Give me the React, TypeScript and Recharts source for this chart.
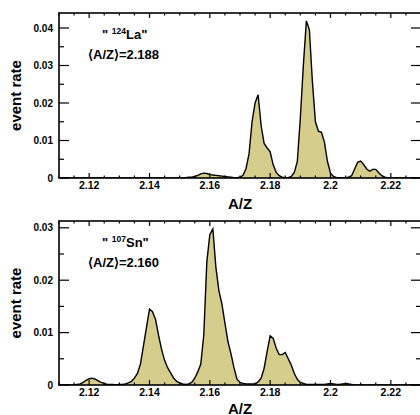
import React from 'react';
import { ComposedChart, Area, XAxis, YAxis } from 'recharts';

// ---------- data ----------
const X_TICKS = [2.11, 2.115, 2.12, 2.125, 2.13, 2.135, 2.14, 2.145, 2.15, 2.155, 2.16, 2.165, 2.17, 2.175, 2.18, 2.185, 2.19, 2.195, 2.2, 2.205, 2.21, 2.215, 2.22, 2.225, 2.23];
const X_MAJOR = [2.12, 2.14, 2.16, 2.18, 2.2, 2.22];
const LA_Y_TICKS = [0, 0.005, 0.01, 0.015, 0.02, 0.025, 0.03, 0.035, 0.04];
const SN_Y_TICKS = [0, 0.005, 0.01, 0.015, 0.02, 0.025, 0.03];

const LA_AZ = [2.11, 2.148, 2.149, 2.15, 2.151, 2.152, 2.153, 2.154, 2.155, 2.156, 2.157, 2.158, 2.159, 2.16, 2.161, 2.162, 2.163, 2.164, 2.165, 2.166, 2.167, 2.168, 2.169, 2.17, 2.171, 2.172, 2.173, 2.174, 2.175, 2.176, 2.177, 2.178, 2.179, 2.18, 2.181, 2.182, 2.183, 2.184, 2.185, 2.186, 2.187, 2.188, 2.189, 2.19, 2.191, 2.192, 2.193, 2.194, 2.195, 2.196, 2.197, 2.198, 2.199, 2.2, 2.201, 2.202, 2.203, 2.204, 2.205, 2.206, 2.207, 2.208, 2.209, 2.21, 2.211, 2.212, 2.213, 2.214, 2.215, 2.216, 2.217, 2.218, 2.219, 2.22, 2.23];
const LA_RATE = [0, 0, 0.0001, 0.0001, 0.0001, 0.0001, 0.0002, 0.0002, 0.0004, 0.0007, 0.0011, 0.0013, 0.0012, 0.0009, 0.0008, 0.0007, 0.0006, 0.0005, 0.0004, 0.0003, 0.0002, 0.0001, 0.0001, 0.0002, 0.0007, 0.0025, 0.0065, 0.015, 0.02, 0.0222, 0.014, 0.0092, 0.008, 0.007, 0.0035, 0.0015, 0.0006, 0.0002, 0.0001, 0.0001, 0.0004, 0.0015, 0.0044, 0.016, 0.03, 0.0419, 0.0395, 0.0257, 0.015, 0.0125, 0.0122, 0.0095, 0.0044, 0.0013, 0.0004, 0.0001, 0.0001, 0.0001, 0.0001, 0.0002, 0.0006, 0.0024, 0.0042, 0.0045, 0.0036, 0.0024, 0.0018, 0.0023, 0.0023, 0.0014, 0.0006, 0.0002, 0.0001, 0, 0];

const SN_AZ = [2.11, 2.115, 2.116, 2.117, 2.118, 2.119, 2.12, 2.121, 2.122, 2.123, 2.124, 2.125, 2.126, 2.127, 2.128, 2.129, 2.13, 2.131, 2.132, 2.133, 2.134, 2.135, 2.136, 2.137, 2.138, 2.139, 2.14, 2.141, 2.142, 2.143, 2.144, 2.145, 2.146, 2.147, 2.148, 2.149, 2.15, 2.151, 2.152, 2.153, 2.154, 2.155, 2.156, 2.157, 2.158, 2.159, 2.16, 2.161, 2.162, 2.163, 2.164, 2.165, 2.166, 2.167, 2.168, 2.169, 2.17, 2.171, 2.172, 2.173, 2.174, 2.175, 2.176, 2.177, 2.178, 2.179, 2.18, 2.181, 2.182, 2.183, 2.184, 2.185, 2.186, 2.187, 2.188, 2.189, 2.19, 2.191, 2.192, 2.193, 2.194, 2.195, 2.196, 2.197, 2.198, 2.199, 2.2, 2.201, 2.202, 2.203, 2.204, 2.205, 2.206, 2.207, 2.208, 2.23];
const SN_RATE = [0, 0, 0.0001, 0.0002, 0.0005, 0.0009, 0.0012, 0.0013, 0.0011, 0.0008, 0.0005, 0.0003, 0.0001, 0.0001, 0.0001, 0, 0.0001, 0.0001, 0.0002, 0.0004, 0.0007, 0.0013, 0.0022, 0.004, 0.0075, 0.011, 0.0145, 0.014, 0.0125, 0.0095, 0.0068, 0.0047, 0.0033, 0.0023, 0.0013, 0.0007, 0.0004, 0.0002, 0.0001, 0.0002, 0.0005, 0.0013, 0.0025, 0.004, 0.0096, 0.0235, 0.0287, 0.0298, 0.0225, 0.018, 0.0155, 0.0118, 0.0083, 0.006, 0.0033, 0.0011, 0.0005, 0.0003, 0.0002, 0.0002, 0.0002, 0.0002, 0.0006, 0.0013, 0.0032, 0.0064, 0.0094, 0.0089, 0.007, 0.0058, 0.0058, 0.0062, 0.005, 0.0038, 0.0022, 0.0011, 0.0005, 0.0003, 0.0001, 0.0001, 0.0001, 0.0001, 0.0001, 0.0001, 0.0001, 0.0002, 0.0003, 0.0002, 0.0001, 0.0001, 0.0002, 0.0003, 0.0002, 0.0001, 0, 0];

const LA_LABEL = { nuclide: 'La', mass: '124', mean: '2.188' };
const SN_LABEL = { nuclide: 'Sn', mass: '107', mean: '2.160' };

// ---------- style ----------
const FONT = '"Liberation Sans", Arial, Helvetica, sans-serif';
const FILL = '#d4cd8b';
const CHART_W = 424;
const PLOT_L = 59;
const PLOT_R = 421;

const isMajorX = (v: number) => X_MAJOR.some((m) => Math.abs(m - v) < 1e-7);
const isMajorY = (v: number) => Math.abs(v * 100 - Math.round(v * 100)) < 1e-6;

function XTick(props: any) {
  const { x, payload, plotTop, plotBottom } = props;
  const v = payload.value as number;
  const major = isMajorX(v);
  const len = major ? 5 : 2.5;
  return (
    <g>
      <line x1={x} x2={x} y1={plotBottom} y2={plotBottom - len} stroke="#000" strokeWidth={1.2} />
      <line x1={x} x2={x} y1={plotTop} y2={plotTop + len} stroke="#000" strokeWidth={1.2} />
      {major && (
        <text x={x} y={plotBottom + 11} textAnchor="middle" fontFamily={FONT} fontWeight="bold" fontSize={10.5} fill="#000">
          {String(Number(v.toFixed(2)))}
        </text>
      )}
    </g>
  );
}

function YTick(props: any) {
  const { y, payload } = props;
  const v = payload.value as number;
  const major = isMajorY(v);
  const len = major ? 10 : 5;
  return (
    <g>
      <line x1={PLOT_L} x2={PLOT_L + len} y1={y} y2={y} stroke="#000" strokeWidth={1.2} />
      <line x1={PLOT_R} x2={PLOT_R - len} y1={y} y2={y} stroke="#000" strokeWidth={1.2} />
      {major && (
        <text x={PLOT_L - 6} y={y + 3.6} textAnchor="end" fontFamily={FONT} fontWeight="bold" fontSize={10} fill="#000">
          {String(Number(v.toFixed(3)))}
        </text>
      )}
    </g>
  );
}

type PanelProps = {
  az: number[];
  rate: number[];
  yMax: number;
  yTicks: number[];
  top: number;
  height: number;
  plotTop: number;
  plotBottom: number;
};

function Panel({ az, rate, yMax, yTicks, top, height, plotTop, plotBottom }: PanelProps) {
  const data = az.map((a, i) => ({ az: a, rate: rate[i] }));
  return (
    <div style={{ position: 'absolute', left: 0, top, width: CHART_W, height }}>
      <ComposedChart
        width={CHART_W}
        height={height}
        data={data}
        margin={{ top: plotTop, right: CHART_W - PLOT_R, bottom: height - plotBottom - 30, left: 0 }}
      >
        <XAxis
          dataKey="az"
          type="number"
          domain={[2.11, 2.23]}
          allowDataOverflow
          ticks={X_TICKS}
          interval={0}
          height={30}
          axisLine={false}
          tickLine={false}
          tick={<XTick plotTop={plotTop} plotBottom={plotBottom} />}
        />
        <YAxis
          type="number"
          domain={[0, yMax]}
          allowDataOverflow
          ticks={yTicks}
          interval={0}
          width={PLOT_L}
          axisLine={false}
          tickLine={false}
          tick={<YTick />}
        />
        <Area
          type="linear"
          dataKey="rate"
          stroke="#000"
          strokeWidth={1.4}
          fill={FILL}
          fillOpacity={1}
          isAnimationActive={false}
          dot={false}
          activeDot={false}
        />
      </ComposedChart>
    </div>
  );
}

function Labels({ label, top }: { label: { nuclide: string; mass: string; mean: string }; top: number }) {
  return (
    <g fontFamily={FONT} fontWeight="bold" fill="#000">
      <text x={102} y={top + 26} fontSize={13}>
        {'" '}
        <tspan dy={-5} fontSize={8.5}>{label.mass}</tspan>
        <tspan dy={5}>{label.nuclide + '"'}</tspan>
      </text>
      <text x={88} y={top + 46} fontSize={13}>
        {'\u27E8A/Z\u27E9=' + label.mean}
      </text>
    </g>
  );
}

export default function App() {
  return (
    <div style={{ position: 'absolute', left: 0, top: 0, width: 420, height: 415, overflow: 'hidden', background: '#fff' }}>
      <Panel az={LA_AZ} rate={LA_RATE} yMax={0.044} yTicks={LA_Y_TICKS} top={0} height={210} plotTop={13} plotBottom={178} />
      <Panel az={SN_AZ} rate={SN_RATE} yMax={0.0313} yTicks={SN_Y_TICKS} top={200} height={215} plotTop={21} plotBottom={185} />
      <svg width={420} height={415} style={{ position: 'absolute', left: 0, top: 0, pointerEvents: 'none' }}>
        <rect x={PLOT_L} y={13} width={PLOT_R - PLOT_L} height={165} fill="none" stroke="#000" strokeWidth={1.6} />
        <rect x={PLOT_L} y={221} width={PLOT_R - PLOT_L} height={164} fill="none" stroke="#000" strokeWidth={1.6} />
        <Labels label={LA_LABEL} top={13} />
        <Labels label={SN_LABEL} top={221} />
        <g fontFamily={FONT} fontWeight="bold" fontSize={15} fill="#000">
          <text x={20.5} y={95.5} textAnchor="middle" transform="rotate(-90 20.5 95.5)">event rate</text>
          <text x={20.5} y={303} textAnchor="middle" transform="rotate(-90 20.5 303)">event rate</text>
          <text x={240} y={208.5} textAnchor="middle">A/Z</text>
          <text x={240} y={413.5} textAnchor="middle">A/Z</text>
        </g>
      </svg>
    </div>
  );
}
